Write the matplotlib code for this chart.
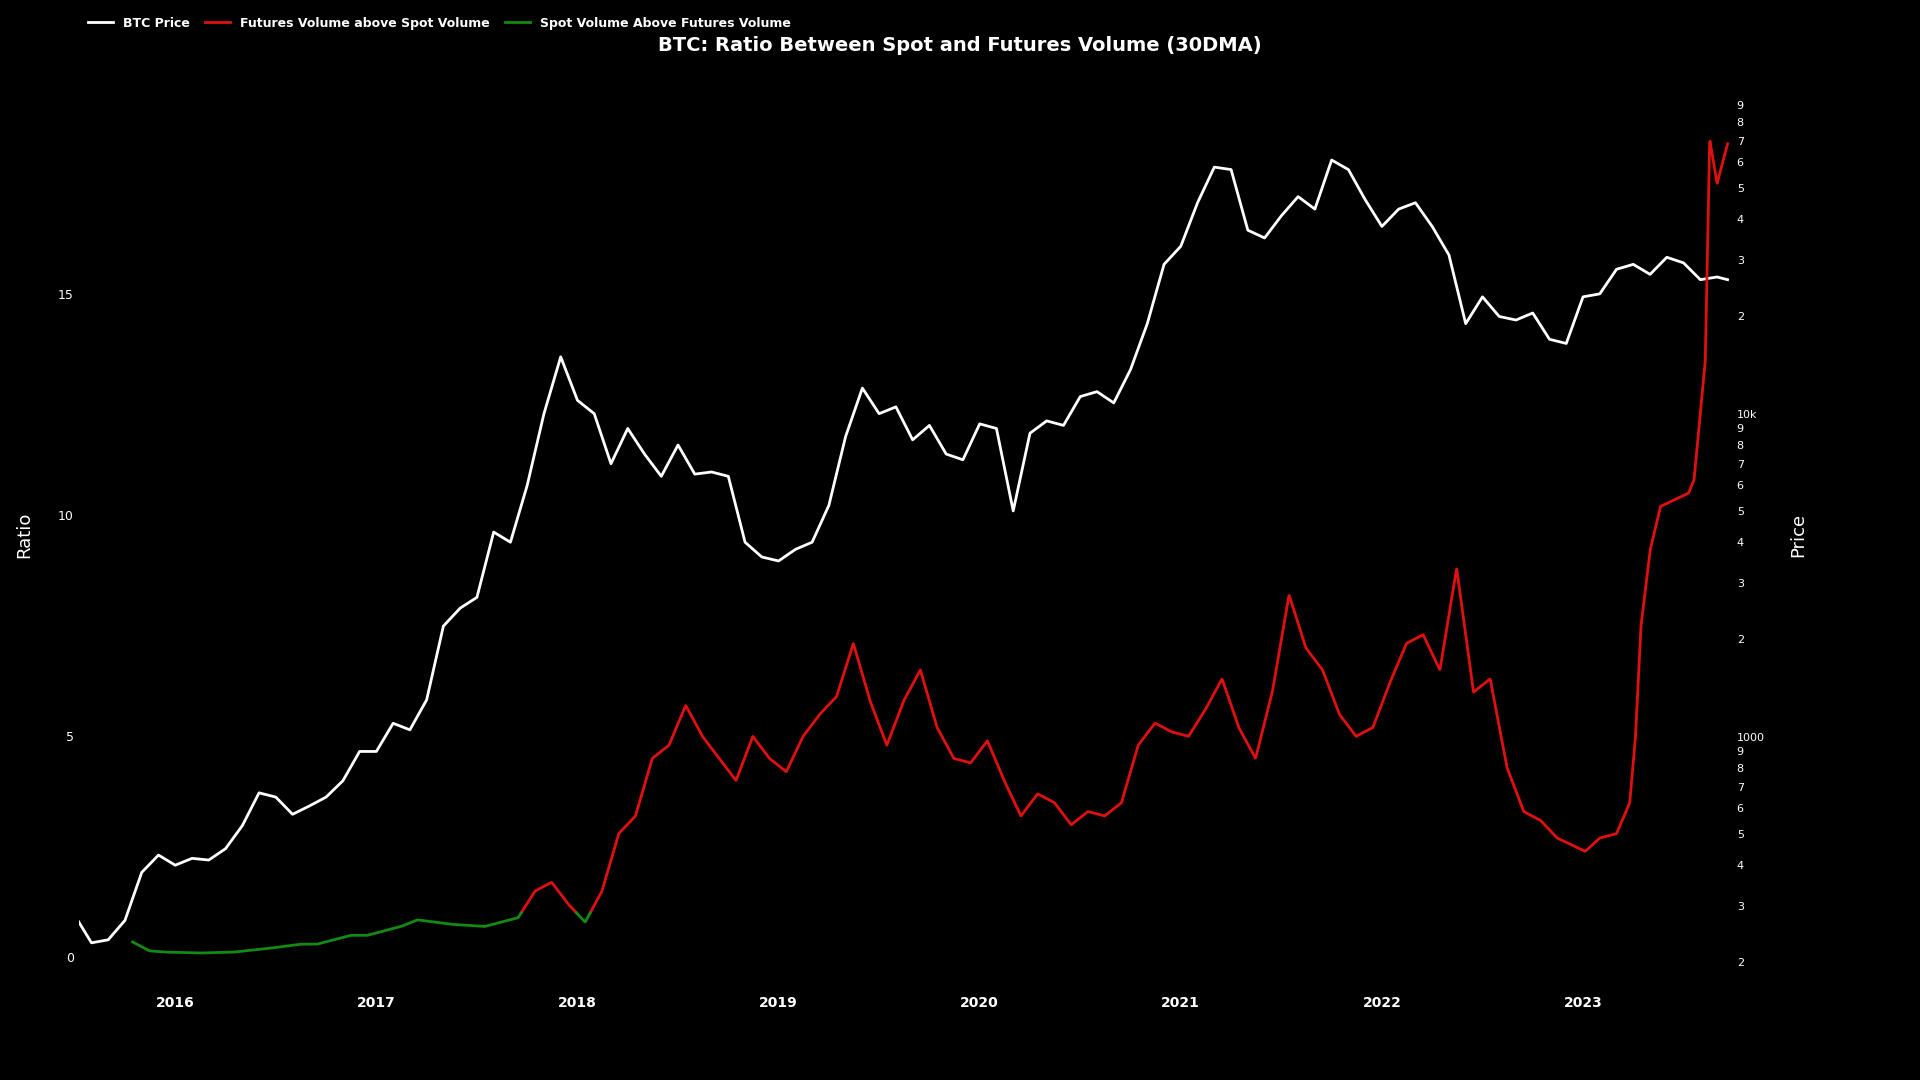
import numpy as np
import matplotlib
matplotlib.use("Agg")
import matplotlib.pyplot as plt
from matplotlib.ticker import FuncFormatter, FixedLocator

price_dates = ["2015-07","2015-08","2015-09","2015-10","2015-11","2015-12",
"2016-01","2016-02","2016-03","2016-04","2016-05","2016-06","2016-07","2016-08","2016-09","2016-10","2016-11","2016-12",
"2017-01","2017-02","2017-03","2017-04","2017-05","2017-06","2017-07","2017-08","2017-09","2017-10","2017-11","2017-12",
"2018-01","2018-02","2018-03","2018-04","2018-05","2018-06","2018-07","2018-08","2018-09","2018-10","2018-11","2018-12",
"2019-01","2019-02","2019-03","2019-04","2019-05","2019-06","2019-07","2019-08","2019-09","2019-10","2019-11","2019-12",
"2020-01","2020-02","2020-03","2020-04","2020-05","2020-06","2020-07","2020-08","2020-09","2020-10","2020-11","2020-12",
"2021-01","2021-02","2021-03","2021-04","2021-05","2021-06","2021-07","2021-08","2021-09","2021-10","2021-11","2021-12",
"2022-01","2022-02","2022-03","2022-04","2022-05","2022-06","2022-07","2022-08","2022-09","2022-10","2022-11","2022-12",
"2023-01","2023-02","2023-03","2023-04","2023-05","2023-06","2023-07","2023-08","2023-09","2023-09-20"]
price_values = [280,230,235,270,380,430,
400,420,415,450,530,670,650,575,610,650,730,900,
900,1100,1050,1300,2200,2500,2700,4300,4000,6000,10000,15000,
11000,10000,7000,9000,7500,6400,8000,6500,6600,6400,4000,3600,
3500,3800,4000,5200,8500,12000,10000,10500,8300,9200,7500,7200,
9300,9000,5000,8700,9500,9200,11300,11700,10800,13700,19000,29000,
33000,45000,58000,57000,37000,35000,41000,47000,43000,61000,57000,46000,
38000,43000,45000,38000,31000,19000,23000,20000,19500,20500,17000,16500,
23000,23500,28000,29000,27000,30500,29300,26000,26500,26000]

ratio_dates = ["2015-10-15","2015-11-15",
"2015-12-15","2016-02-15","2016-04-15","2016-06-15","2016-08-15","2016-09-15","2016-11-15",
"2016-12-15","2017-02-15","2017-03-15","2017-05-15","2017-07-15","2017-08-15","2017-09-15","2017-10-15","2017-11-15",
"2017-12-15","2018-01-15","2018-02-15","2018-03-15","2018-04-15","2018-05-15","2018-06-15","2018-07-15","2018-08-15","2018-09-15","2018-10-15","2018-11-15",
"2018-12-15","2019-01-15","2019-02-15","2019-03-15","2019-04-15","2019-05-15","2019-06-15","2019-07-15","2019-08-15","2019-09-15","2019-10-15","2019-11-15",
"2019-12-15","2020-01-15","2020-02-15","2020-03-15","2020-04-15","2020-05-15","2020-06-15","2020-07-15","2020-08-15","2020-09-15","2020-10-15","2020-11-15",
"2020-12-15","2021-01-15","2021-02-15","2021-03-15","2021-04-15","2021-05-15","2021-06-15","2021-07-15","2021-08-15","2021-09-15","2021-10-15","2021-11-15",
"2021-12-15","2022-01-15","2022-02-15","2022-03-15","2022-04-15","2022-05-15","2022-06-15","2022-07-15","2022-08-15","2022-09-15","2022-10-15","2022-11-15",
"2023-01-05","2023-02-01","2023-03-01","2023-03-25","2023-04-05","2023-04-15","2023-05-01","2023-05-20","2023-07-10","2023-07-20","2023-08-10","2023-08-18","2023-09-01","2023-09-20"]
ratio_values = [0.35,0.15,
0.12,0.1,0.12,0.2,0.3,0.3,0.5,
0.5,0.7,0.85,0.75,0.7,0.8,0.9,1.5,1.7,
1.2,0.8,1.5,2.8,3.2,4.5,4.8,5.7,5.0,4.5,4.0,5.0,
4.5,4.2,5.0,5.5,5.9,7.1,5.8,4.8,5.8,6.5,5.2,4.5,
4.4,4.9,4.0,3.2,3.7,3.5,3.0,3.3,3.2,3.5,4.8,5.3,
5.1,5.0,5.6,6.3,5.2,4.5,6.0,8.2,7.0,6.5,5.5,5.0,
5.2,6.2,7.1,7.3,6.5,8.8,6.0,6.3,4.3,3.3,3.1,2.7,
2.4,2.7,2.8,3.5,5.0,7.5,9.2,10.2,10.5,10.8,13.5,18.5,17.5,18.4]

def to_year(s):
    p = s.split("-")
    y, m = int(p[0]), int(p[1])
    d = int(p[2]) if len(p) > 2 else 1
    return y + (m - 1) / 12 + (d - 1) / 365

px = np.array([to_year(d) for d in price_dates])
py = np.array(price_values, float)
rx = np.array([to_year(d) for d in ratio_dates])
ry = np.array(ratio_values, float)

fx = np.linspace(rx[0], rx[-1], 4000)
fy = np.interp(fx, rx, ry)

fig = plt.figure(figsize=(19.2, 10.8), dpi=100, facecolor="black")
ax = fig.add_axes([0.041, 0.093, 0.861, 0.823], facecolor="black")
ax2 = ax.twinx()
ax.set_zorder(2); ax.patch.set_visible(False)

ax2.plot(px, py, color="white", lw=2, label="BTC Price")
ax2.set_yscale("log")
ax2.set_ylim(177, 100000)
red = np.ma.masked_where(fy < 1, fy)
green = np.ma.masked_where(fy > 1.02, fy)
ax.plot(fx, red, color="#e01010", lw=2, label="Futures Volume above Spot Volume")
ax.plot(fx, green, color="#138a13", lw=2, label="Spot Volume Above Futures Volume")
ax.set_ylim(-0.5, 19.6)
ax.set_xlim(2015.52, 2023.74)

ax.set_yticks([0, 5, 10, 15])
ax.set_xticks(range(2016, 2024))
ax.set_xticklabels([str(y) for y in range(2016, 2024)])
for a in (ax, ax2):
    for s in a.spines.values():
        s.set_visible(False)
    a.tick_params(colors="white", length=0, labelsize=9)
ax.tick_params(axis="x", labelsize=10, pad=12)
for t in ax.get_xticklabels():
    t.set_fontweight("bold")

ticks = [v * 10**e for e in (2, 3, 4) for v in range(1, 10)]
ticks = [t for t in ticks if 177 <= t <= 100000]
ax2.yaxis.set_major_locator(FixedLocator(ticks))
ax2.yaxis.set_minor_locator(FixedLocator([]))
def fmt(v, pos):
    e = int(np.floor(np.log10(v) + 1e-9)); m = int(round(v / 10**e))
    if m == 1:
        return "1000" if e == 3 else ("10k" if e == 4 else "")
    return str(m)
ax2.yaxis.set_major_formatter(FuncFormatter(fmt))
ax2.tick_params(labelsize=8)

ax.set_ylabel("Ratio", color="white", fontsize=13, labelpad=18)
ax2.set_ylabel("Price", color="white", fontsize=13, labelpad=18)
fig.text(0.5, 0.958, "BTC: Ratio Between Spot and Futures Volume (30DMA)", color="white",
         fontsize=14, ha="center", va="center", fontweight="semibold")

h2, l2 = ax2.get_legend_handles_labels()
h1, l1 = ax.get_legend_handles_labels()
leg = fig.legend(h2 + h1, l2 + l1, loc="upper left", bbox_to_anchor=(0.04, 0.995), ncol=3,
                 frameon=False, fontsize=9, labelcolor="white", handlelength=2, columnspacing=1.2)
for t in leg.get_texts():
    t.set_fontweight("bold")

fig.savefig("out.png", dpi=100, facecolor="black")
